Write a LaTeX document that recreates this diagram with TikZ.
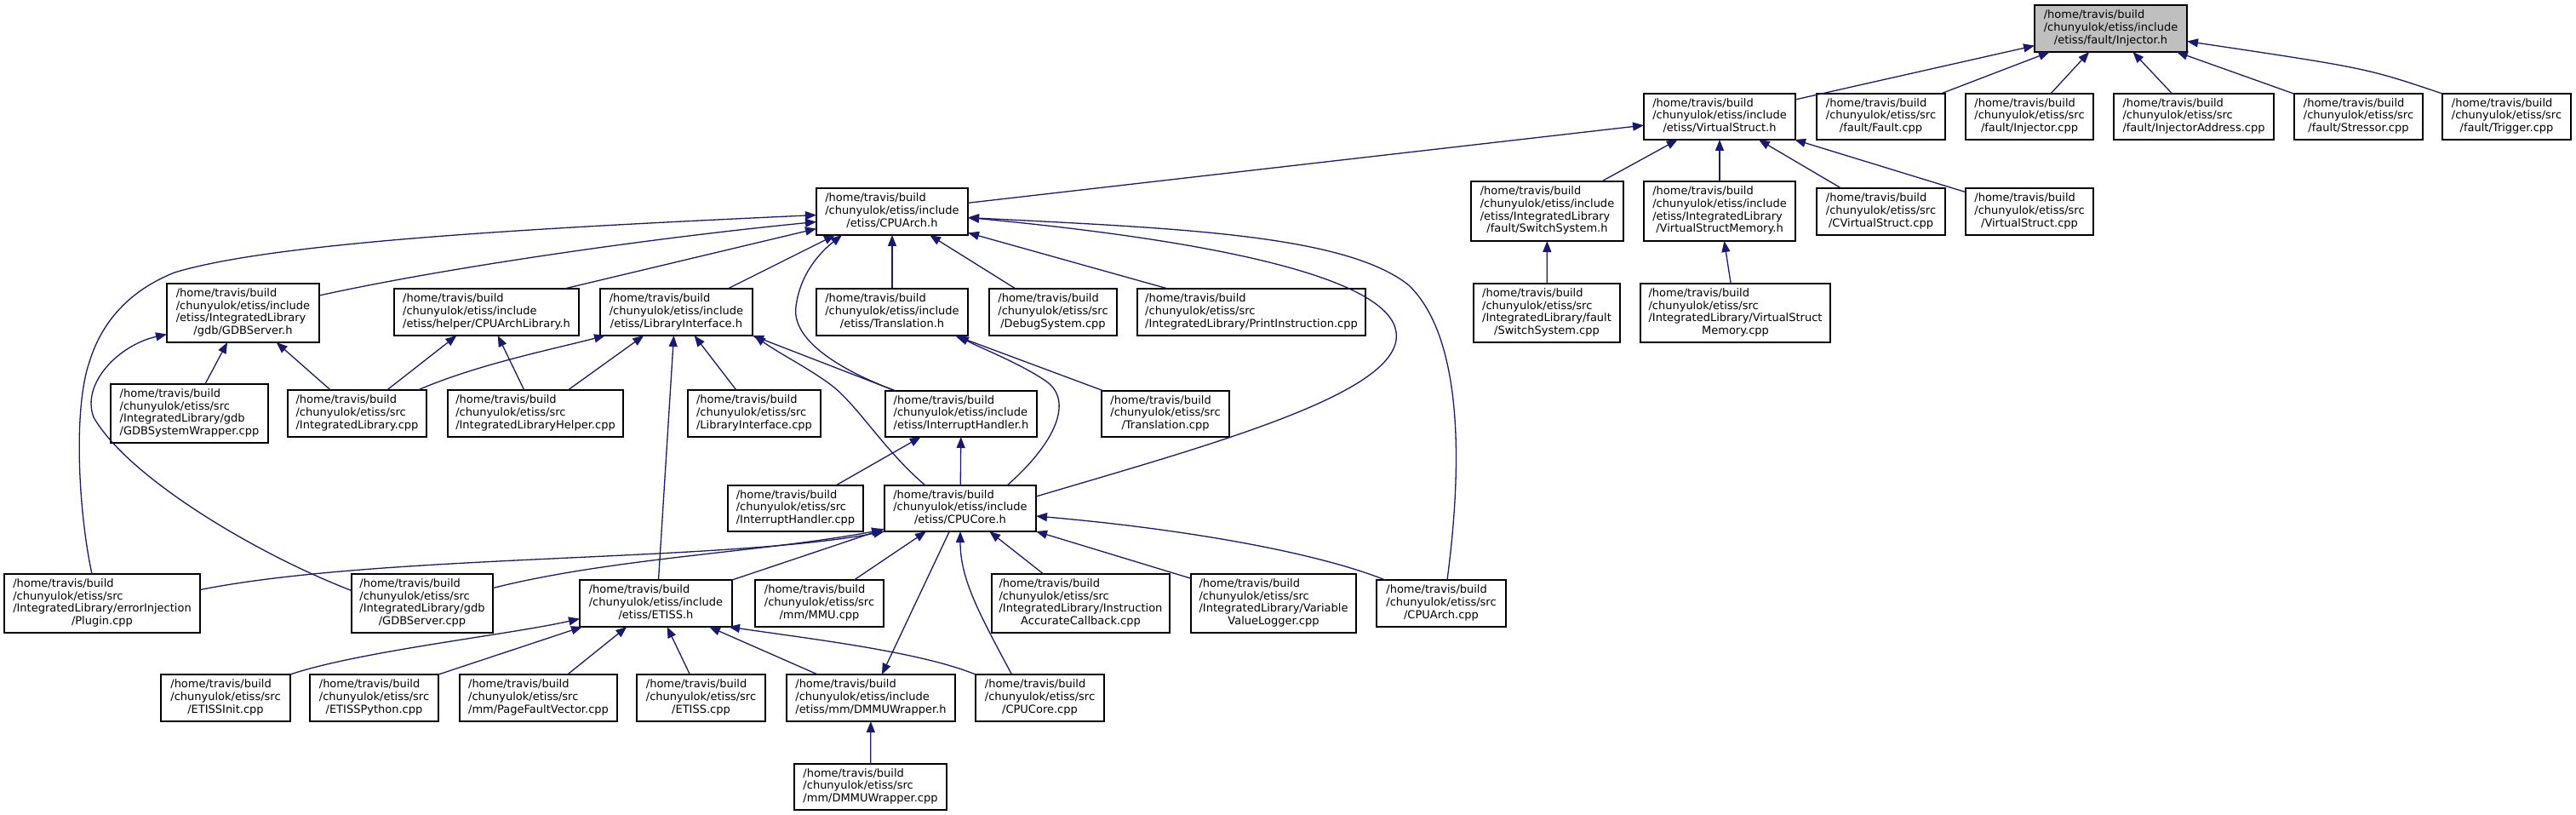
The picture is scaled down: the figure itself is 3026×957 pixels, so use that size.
\documentclass[tikz,border=0pt]{standalone}
\usepackage{fontspec}
\setmainfont{DejaVu Sans}
\usetikzlibrary{arrows.meta,calc}
\definecolor{dxblue}{RGB}{25,25,112}
\definecolor{dxgray}{RGB}{191,191,191}
\newcommand\pinc{/home/travis/build\\/chunyulok/etiss/include}
\newcommand\psrc{/home/travis/build\\/chunyulok/etiss/src}
\newcommand\dxlabel[2]{\begin{tabular}{@{}l@{}}#1\\\multicolumn{1}{@{}c@{}}{#2}\end{tabular}}
\newcommand\bx[7][]{\node[boxst,#1,minimum width={(#5-#3)*1pt},minimum height={(#6-#4)*1pt}] (#2) at ({(#3+#5)/2},{(#4+#6)/2}) {#7};}
\tikzset{
  boxst/.style={draw=black,line width=1.4pt,fill=white,inner sep=0pt,outer sep=0pt,
    font=\fontsize{13}{14.7}\selectfont},
  lnk/.style={draw=dxblue,line width=1.3pt,-{Triangle[length=13pt,width=10pt]}}
}
\begin{document}
\begin{tikzpicture}[x=1pt,y=-1pt]
\fill[white] (0,0) rectangle (3026,957);
\useasboundingbox (0,0) rectangle (3026,957);
% rank 0
\bx[fill=dxgray]{inj}{2390}{6}{2569}{61}{\dxlabel{\pinc}{/etiss/fault/Injector.h}}
% rank 1
\bx{vs}{1931}{110}{2109}{164}{\dxlabel{\pinc}{/etiss/VirtualStruct.h}}
\bx{fault}{2134}{110}{2285}{164}{\dxlabel{\psrc}{/fault/Fault.cpp}}
\bx{injcpp}{2309}{110}{2459}{164}{\dxlabel{\psrc}{/fault/Injector.cpp}}
\bx{injaddr}{2483}{110}{2671}{164}{\dxlabel{\psrc}{/fault/InjectorAddress.cpp}}
\bx{stressor}{2695}{110}{2846}{164}{\dxlabel{\psrc}{/fault/Stressor.cpp}}
\bx{trigger}{2869}{110}{3020}{164}{\dxlabel{\psrc}{/fault/Trigger.cpp}}
% rank 2
\bx{cpuarch}{959}{221}{1137}{276}{\dxlabel{\pinc}{/etiss/CPUArch.h}}
\bx{swh}{1728}{213}{1907}{283}{\dxlabel{\pinc\\/etiss/IntegratedLibrary}{/fault/SwitchSystem.h}}
\bx{vsmh}{1931}{213}{2109}{283}{\dxlabel{\pinc\\/etiss/IntegratedLibrary}{/VirtualStructMemory.h}}
\bx{cvs}{2134}{221}{2285}{276}{\dxlabel{\psrc}{/CVirtualStruct.cpp}}
\bx{vscpp}{2309}{221}{2459}{276}{\dxlabel{\psrc}{/VirtualStruct.cpp}}
% rank 3
\bx{gdbh}{196}{333}{375}{402}{\dxlabel{\pinc\\/etiss/IntegratedLibrary}{/gdb/GDBServer.h}}
\bx{cal}{463}{339}{680}{394}{\dxlabel{\pinc}{/etiss/helper/CPUArchLibrary.h}}
\bx{lih}{705}{339}{884}{394}{\dxlabel{\pinc}{/etiss/LibraryInterface.h}}
\bx{trh}{959}{339}{1137}{394}{\dxlabel{\pinc}{/etiss/Translation.h}}
\bx{dbg}{1162}{339}{1312}{394}{\dxlabel{\psrc}{/DebugSystem.cpp}}
\bx{pic}{1336}{339}{1604}{394}{\dxlabel{\psrc}{/IntegratedLibrary/PrintInstruction.cpp}}
\bx{swcpp}{1731}{333}{1903}{402}{\dxlabel{\psrc\\/IntegratedLibrary/fault}{/SwitchSystem.cpp}}
\bx{vsmcpp}{1927}{333}{2150}{402}{\dxlabel{\psrc\\/IntegratedLibrary/VirtualStruct}{Memory.cpp}}
% rank 4
\bx{gsw}{130}{451}{315}{520}{\dxlabel{\psrc\\/IntegratedLibrary/gdb}{/GDBSystemWrapper.cpp}}
\bx{ilcpp}{338}{458}{501}{513}{\dxlabel{\psrc}{/IntegratedLibrary.cpp}}
\bx{ilh}{526}{458}{732}{513}{\dxlabel{\psrc}{/IntegratedLibraryHelper.cpp}}
\bx{licpp}{808}{458}{964}{513}{\dxlabel{\psrc}{/LibraryInterface.cpp}}
\bx{ihh}{1040}{459}{1218}{513}{\dxlabel{\pinc}{/etiss/InterruptHandler.h}}
\bx{trcpp}{1294}{459}{1444}{513}{\dxlabel{\psrc}{/Translation.cpp}}
% rank 5
\bx{ihcpp}{855}{570}{1014}{624}{\dxlabel{\psrc}{/InterruptHandler.cpp}}
\bx{cpucore}{1039}{570}{1217}{624}{\dxlabel{\pinc}{/etiss/CPUCore.h}}
% rank 6
\bx{plugin}{5}{674}{235}{743}{\dxlabel{\psrc\\/IntegratedLibrary/errorInjection}{/Plugin.cpp}}
\bx{gdbcpp}{413}{674}{579}{743}{\dxlabel{\psrc\\/IntegratedLibrary/gdb}{/GDBServer.cpp}}
\bx{etissh}{681}{681}{860}{736}{\dxlabel{\pinc}{/etiss/ETISS.h}}
\bx{mmu}{887}{681}{1038}{736}{\dxlabel{\psrc}{/mm/MMU.cpp}}
\bx{iac}{1165}{674}{1374}{743}{\dxlabel{\psrc\\/IntegratedLibrary/Instruction}{AccurateCallback.cpp}}
\bx{vvl}{1399}{674}{1593}{743}{\dxlabel{\psrc\\/IntegratedLibrary/Variable}{ValueLogger.cpp}}
\bx{cpuarchcpp}{1617}{681}{1769}{736}{\dxlabel{\psrc}{/CPUArch.cpp}}
% rank 7
\bx{einit}{189}{792}{341}{847}{\dxlabel{\psrc}{/ETISSInit.cpp}}
\bx{epy}{364}{792}{515}{847}{\dxlabel{\psrc}{/ETISSPython.cpp}}
\bx{pfv}{540}{792}{725}{847}{\dxlabel{\psrc}{/mm/PageFaultVector.cpp}}
\bx{etisscpp}{748}{792}{899}{847}{\dxlabel{\psrc}{/ETISS.cpp}}
\bx{dmmuh}{924}{792}{1122}{847}{\dxlabel{\pinc}{/etiss/mm/DMMUWrapper.h}}
\bx{cpucorecpp}{1146}{792}{1297}{847}{\dxlabel{\psrc}{/CPUCore.cpp}}
% rank 8
\bx{dmmucpp}{933}{897}{1112}{951}{\dxlabel{\psrc}{/mm/DMMUWrapper.cpp}}

% ---- edges ----
\draw[lnk] (vs) -- (inj);
\draw[lnk] (fault) -- (inj);
\draw[lnk] (injcpp) -- (inj);
\draw[lnk] (injaddr) -- (inj);
\draw[lnk] (stressor) -- (inj);
\draw[lnk] (trigger.north west) .. controls (2780,80) .. ($(inj.east)+(0,15)$);
\draw[lnk] (cpuarch) -- (vs);
\draw[lnk] (swh) -- (vs);
\draw[lnk] (vsmh) -- (vs);
\draw[lnk] (cvs) -- (vs);
\draw[lnk] (vscpp) -- (vs);
\draw[lnk] (swcpp) -- (swh);
\draw[lnk] (vsmcpp) -- (vsmh);
% to CPUArch.h
\draw[lnk] ($(gdbh.north east)+(0,14)$) .. controls (520,315) and (760,280) .. ($(cpuarch.west)+(0,12)$);
\draw[lnk] ($(cal.north east)+(-17,0)$) -- ($(cpuarch.west)+(0,20)$);
\draw[lnk] ($(lih.north east)+(-29,0)$) -- ($(cpuarch.south west)+(22,0)$);
\draw[lnk] (trh) -- (cpuarch);
\draw[lnk] (dbg) -- (cpuarch);
\draw[lnk] (pic) -- (cpuarch);
\draw[lnk] ($(ihh.north west)+(12,0)$) .. controls (975,430) and (930,395) .. (935,360) .. controls (940,320) and (965,295) .. ($(cpuarch.south west)+(30,0)$);
\draw[lnk] ($(cpucore.east)+(0,-14)$) .. controls (1430,520) and (1650,460) .. (1640,390) .. controls (1632,330) and (1450,285) .. ($(cpuarch.east)+(0,7)$);
\draw[lnk] ($(cpuarchcpp.north)+(7,0)$) .. controls (1716,560) and (1722,400) .. (1655,335) .. controls (1580,275) and (1380,268) .. ($(cpuarch.east)+(0,7)$);
\draw[lnk] ($(plugin.north)+(-12,0)$) .. controls (92,600) and (86,480) .. (105,425) .. controls (122,370) and (160,338) .. (205,320) .. controls (320,285) and (620,268) .. ($(cpuarch.west)+(0,4)$);
% to CPUCore.h
\draw[lnk] ($(plugin.east)+(0,-16)$) .. controls (450,650) and (850,660) .. (cpucore.south west);
\draw[lnk] ($(gdbcpp.east)+(0,-18)$) .. controls (720,655) and (900,648) .. ($(cpucore.south west)+(-2,-2)$);
\draw[lnk] (etissh.north east) -- ($(cpucore.south west)+(0,-3)$);
\draw[lnk] (mmu) -- (cpucore);
\draw[lnk] (iac) -- (cpucore);
\draw[lnk] (vvl) -- (cpucore);
\draw[lnk] ($(cpuarchcpp.north west)+(10,0)$) .. controls (1550,650) and (1400,622) .. ($(cpucore.east)+(0,9)$);
\draw[lnk] ($(cpucorecpp.north)+(-33,0)$) .. controls (1150,720) and (1128,680) .. (cpucore.south);
\draw[lnk] (cpucore) -- (dmmuh);
% to GDBServer.h
\draw[lnk] ($(gdbcpp.west)+(0,-15)$) .. controls (300,650) and (150,560) .. (110,490) .. controls (95,450) and (140,405) .. ($(gdbh.west)+(0,25)$);
\draw[lnk] (gsw) -- (gdbh);
\draw[lnk] (ilcpp) -- (gdbh);
% to CPUArchLibrary.h
\draw[lnk] (ilcpp) -- (cal);
\draw[lnk] (ilh) -- (cal);
% to LibraryInterface.h
\draw[lnk] ($(ilcpp.north east)+(-10,0)$) .. controls (560,428) and (650,410) .. ($(lih.south west)+(6,0)$);
\draw[lnk] (ilh) -- (lih);
\draw[lnk] (licpp) -- (lih);
\draw[lnk] ($(etissh.north)+(3,0)$) -- ($(lih.south)+(-3,0)$);
\draw[lnk] ($(ihh.north west)+(12,0)$) -- (lih.south east);
\draw[lnk] ($(cpucore.north west)+(48,0)$) .. controls (1040,530) and (1010,480) .. (980,455) .. controls (955,435) and (915,415) .. ($(lih.south east)+(2,0)$);
% to Translation.h
\draw[lnk] (trcpp) -- (trh);
\draw[lnk] ($(cpucore.north east)+(-34,0)$) .. controls (1240,520) and (1262,470) .. (1228,447) .. controls (1195,425) and (1150,408) .. ($(trh.south east)+(-12,0)$);
% to InterruptHandler.h
\draw[lnk] (ihcpp) -- (ihh);
\draw[lnk] (cpucore) -- (ihh);
% to ETISS.h
\draw[lnk] (einit.north east) .. controls (420,765) and (600,745) .. ($(etissh.west)+(0,18)$);
\draw[lnk] (epy.north east) -- ($(etissh.south west)+(3,0)$);
\draw[lnk] (pfv) -- (etissh);
\draw[lnk] (etisscpp) -- (etissh);
\draw[lnk] (dmmuh) -- (etissh);
\draw[lnk] (cpucorecpp.north west) .. controls (1080,765) and (950,750) .. ($(etissh.south east)+(-4,0)$);
% to DMMUWrapper.h
\draw[lnk] (dmmucpp) -- (dmmuh);
\end{tikzpicture}
\end{document}
